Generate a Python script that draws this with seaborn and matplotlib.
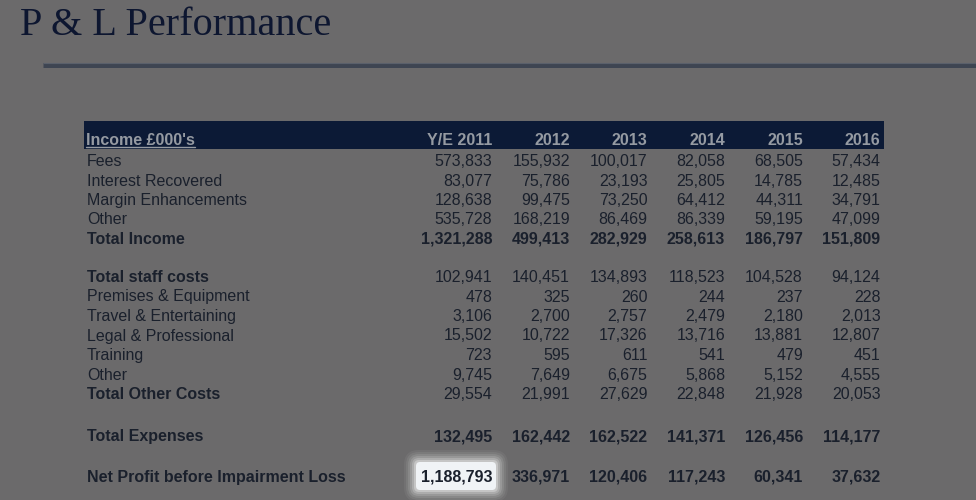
import matplotlib
matplotlib.use("Agg")
import matplotlib.pyplot as plt
from matplotlib.patches import FancyBboxPatch, Rectangle
import seaborn as sns

# ---- data ----
title = "P & L Performance"
header_label = "Income £000's"
columns = ["Y/E 2011", "2012", "2013", "2014", "2015", "2016"]

income_labels = ["Fees", "Interest Recovered", "Margin Enhancements", "Other", "Total Income"]
income_2011 = [573833, 83077, 128638, 535728, 1321288]
income_2012 = [155932, 75786, 99475, 168219, 499413]
income_2013 = [100017, 23193, 73250, 86469, 282929]
income_2014 = [82058, 25805, 64412, 86339, 258613]
income_2015 = [68505, 14785, 44311, 59195, 186797]
income_2016 = [57434, 12485, 34791, 47099, 151809]

cost_labels = ["Total staff costs", "Premises & Equipment", "Travel & Entertaining",
               "Legal & Professional", "Training", "Other", "Total Other Costs"]
cost_2011 = [102941, 478, 3106, 15502, 723, 9745, 29554]
cost_2012 = [140451, 325, 2700, 10722, 595, 7649, 21991]
cost_2013 = [134893, 260, 2757, 17326, 611, 6675, 27629]
cost_2014 = [118523, 244, 2479, 13716, 541, 5868, 22848]
cost_2015 = [104528, 237, 2180, 13881, 479, 5152, 21928]
cost_2016 = [94124, 228, 2013, 12807, 451, 4555, 20053]

expense_label = "Total Expenses"
expenses = [132495, 162442, 162522, 141371, 126456, 114177]

profit_label = "Net Profit before Impairment Loss"
profit = [1188793, 336971, 120406, 117243, 60341, 37632]

# ---- style ----
sns.set_theme(style="white")
plt.rcParams["font.family"] = ["Liberation Sans", "DejaVu Sans"]

BG = "#6b6a6b"
TXT = "#1a202c"
NAVY = "#0c1a36"
HDR_TXT = "#959aa2"

fig = plt.figure(figsize=(9.76, 5.0), dpi=100, facecolor=BG)
ax = fig.add_axes([0, 0, 1, 1])
ax.set_facecolor(BG)
ax.set_xlim(0, 976)
ax.set_ylim(500, 0)
ax.axis("off")

# title and rule
ax.text(20, 35, title, fontsize=29, color="#0d1630",
        family=["Liberation Serif", "DejaVu Serif"], va="baseline", ha="left")
ax.plot([43, 976], [65, 65], color="#3e4552", lw=3.6, solid_capstyle="butt")
ax.plot([43, 976], [62.8, 62.8], color="#5a606b", lw=0.8, solid_capstyle="butt")

# header bar
ax.add_patch(Rectangle((84, 120.5), 800, 28.5, facecolor=NAVY, edgecolor="none"))
ax.text(86, 145, header_label, fontsize=11.5, fontweight="bold", color=HDR_TXT,
        va="baseline", ha="left")
ax.plot([86, 195], [147.3, 147.3], color=HDR_TXT, lw=1.0)

col_right = [492, 570, 647.5, 725, 803, 880.5]
for c, x in zip(columns, col_right):
    ax.text(x, 145, c, fontsize=11.5, fontweight="bold", color=HDR_TXT,
            va="baseline", ha="right")

label_x = 87
fs = 11.5

def draw_row(label, values, y, label_bold, value_bold):
    ax.text(label_x, y, label, fontsize=fs, color=TXT, va="baseline", ha="left",
            fontweight="bold" if label_bold else "normal")
    for v, x in zip(values, col_right):
        ax.text(x, y, f"{v:,}", fontsize=fs, color=TXT, va="baseline", ha="right",
                fontweight="bold" if value_bold else "normal", zorder=5)

income_cols = [income_2011, income_2012, income_2013, income_2014, income_2015, income_2016]
for i, lab in enumerate(income_labels):
    vals = [col[i] for col in income_cols]
    last = i == len(income_labels) - 1
    draw_row(lab, vals, 166 + 19.5 * i, last, last)

cost_cols = [cost_2011, cost_2012, cost_2013, cost_2014, cost_2015, cost_2016]
for j, lab in enumerate(cost_labels):
    vals = [col[j] for col in cost_cols]
    bold_label = j == 0 or j == len(cost_labels) - 1
    draw_row(lab, vals, 282 + 19.5 * j, bold_label, False)

draw_row(expense_label, expenses, 441, True, True)

# soft glow highlight behind first profit value
for k, a in [(12, 0.05), (10, 0.07), (8, 0.1), (6, 0.14), (4, 0.2), (2, 0.3)]:
    ax.add_patch(FancyBboxPatch((416 - k, 462 - k), 80 + 2 * k, 28 + 2 * k,
                                boxstyle=f"round,pad=0,rounding_size={3 + k}",
                                facecolor="white", edgecolor="none", alpha=a, zorder=2))
ax.add_patch(FancyBboxPatch((416, 462), 80, 28, boxstyle="round,pad=0,rounding_size=4",
                            facecolor="#f0f3f6", edgecolor="none", zorder=3))

draw_row(profit_label, profit, 482, True, True)

fig.savefig("out.png", dpi=100, facecolor=BG)
